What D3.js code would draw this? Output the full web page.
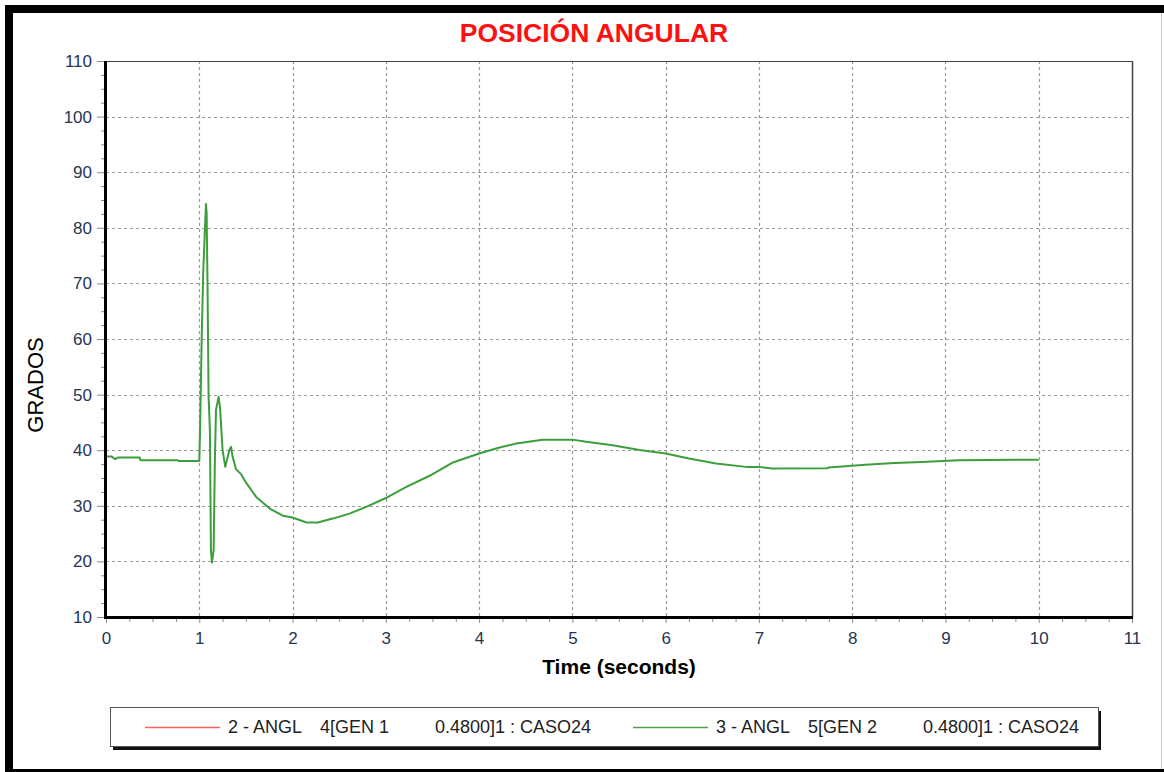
<!DOCTYPE html>
<html>
<head>
<meta charset="utf-8">
<script src="https://cdn.jsdelivr.net/npm/d3@7"></script>
<style>
  html, body { margin: 0; padding: 0; background: #fff; }
  svg { display: block; font-family: "Liberation Sans", Arial, sans-serif; }
</style>
</head>
<body>
<svg id="chart" width="1164" height="772"></svg>
<script>
// ---- Data ----
const chartTitle = "POSICIÓN ANGULAR";
const xAxisTitle = "Time (seconds)";
const yAxisTitle = "GRADOS";
const xTicks = [0, 1, 2, 3, 4, 5, 6, 7, 8, 9, 10, 11];
const yTicks = [10, 20, 30, 40, 50, 60, 70, 80, 90, 100, 110];
const timeS = [0, 0.06, 0.1, 0.13, 0.36, 0.37, 0.77, 0.78, 1.0, 1.007, 1.025, 1.043, 1.072, 1.079,
  1.089, 1.1, 1.114, 1.125, 1.136, 1.154, 1.168, 1.179, 1.207, 1.222, 1.25, 1.279, 1.322, 1.34,
  1.358, 1.393, 1.447, 1.5, 1.61, 1.756, 1.9, 2.0, 2.15, 2.27, 2.43, 2.61, 2.79, 3.0, 3.22, 3.47,
  3.72, 4.0, 4.22, 4.4, 4.68, 5.0, 5.15, 5.43, 5.72, 6.0, 6.25, 6.54, 6.86, 7.0, 7.14, 7.73, 7.75,
  8.14, 8.45, 8.75, 9.14, 10.0];
const angleGen2 = [38.85, 38.85, 38.4, 38.7, 38.7, 38.2, 38.2, 38.05, 38.05, 42.4, 59.2, 72.4, 84.3, 82.6,
  68.8, 49.6, 43.6, 22.0, 19.8, 22.0, 38.8, 47.2, 49.6, 47.8, 40.0, 37.0, 40.0, 40.6,
  38.8, 36.6, 35.7, 34.2, 31.6, 29.5, 28.2, 27.9, 27.0, 27.0, 27.7, 28.6, 29.8, 31.4, 33.4, 35.4,
  37.8, 39.4, 40.5, 41.2, 41.9, 41.9, 41.5, 40.9, 40.05, 39.4, 38.5, 37.6, 37.0, 37.0, 36.7, 36.75, 36.9,
  37.4, 37.7, 37.9, 38.2, 38.3];
const legendItems = [
  { color: "#ff5f5f", parts: ["2 - ANGL", "4[GEN 1", "0.4800]1 : CASO24"] },
  { color: "#4ea24e", parts: ["3 - ANGL", "5[GEN 2", "0.4800]1 : CASO24"] }
];

// ---- Drawing ----
const svg = d3.select("#chart");
const W = 1164, H = 772;
const pLeft = 106, pRight = 1132, pTop = 61, pBottom = 617;
const x = d3.scaleLinear().domain([0, 11]).range([pLeft, pRight]);
const y = d3.scaleLinear().domain([10, 110]).range([pBottom, pTop]);

svg.append("rect").attr("width", W).attr("height", H).attr("fill", "#fff");

// outer frame
svg.append("rect").attr("x", 5).attr("y", 5).attr("width", W - 5).attr("height", 8).attr("fill", "#000");
svg.append("rect").attr("x", 5).attr("y", 5).attr("width", 8).attr("height", H - 5).attr("fill", "#000");
svg.append("rect").attr("x", 5).attr("y", H - 3).attr("width", W - 5).attr("height", 3).attr("fill", "#000");
svg.append("line").attr("x1", W - 2.5).attr("x2", W - 2.5).attr("y1", 13).attr("y2", H - 3)
  .attr("stroke", "#c8c8c8").attr("stroke-width", 1);

// title
svg.append("text").attr("x", 594).attr("y", 42).attr("text-anchor", "middle")
  .attr("fill", "#ff1010").attr("font-weight", "bold").attr("font-size", 26.5)
  .text(chartTitle);

// grid
const grid = svg.append("g").attr("stroke", "#9a9a9a").attr("stroke-width", 1.2)
  .attr("stroke-dasharray", "3,3");
grid.selectAll("line.gx").data(xTicks.filter(d => d > 0 && d < 11)).join("line")
  .attr("x1", d => Math.round(x(d)) + 0.5).attr("x2", d => Math.round(x(d)) + 0.5)
  .attr("y1", pTop).attr("y2", pBottom);
grid.selectAll("line.gy").data(yTicks.filter(d => d > 10 && d < 110)).join("line")
  .attr("x1", pLeft).attr("x2", pRight)
  .attr("y1", d => Math.round(y(d)) + 0.5).attr("y2", d => Math.round(y(d)) + 0.5);

// minor ticks
const yMinor = d3.range(10, 110.01, 2.5).filter(v => v % 10 !== 0);
const xMinor = d3.range(0, 11.01, 0.25).filter(v => Math.abs(v - Math.round(v)) > 1e-6);

const labelColor = "#263552";
svg.append("g").attr("transform", `translate(${pLeft - 1},0)`)
  .call(d3.axisLeft(y).tickValues(yTicks).tickSize(8).tickPadding(5).tickFormat(d3.format("d")));
svg.append("g").attr("transform", `translate(${pLeft - 1},0)`)
  .call(d3.axisLeft(y).tickValues(yMinor).tickSize(4).tickFormat(""));
svg.append("g").attr("transform", `translate(0,${pBottom + 1})`)
  .call(d3.axisBottom(x).tickValues(xTicks).tickSize(5).tickPadding(9).tickFormat(d3.format("d")));
svg.append("g").attr("transform", `translate(0,${pBottom + 1})`)
  .call(d3.axisBottom(x).tickValues(xMinor).tickSize(4).tickFormat(""));
svg.selectAll(".domain").remove();
svg.selectAll(".tick line").attr("stroke", "#8a8a8a").attr("stroke-width", 1);
svg.selectAll(".tick text").attr("fill", labelColor).attr("font-size", 17)
  .attr("font-family", "'Liberation Sans', Arial, sans-serif");

// data line
const line = d3.line().x((d, i) => x(timeS[i])).y(d => y(d));
svg.append("path").datum(angleGen2).attr("d", line)
  .attr("fill", "none").attr("stroke", "#3c9e3c").attr("stroke-width", 2)
  .attr("stroke-linejoin", "round");

// plot border
svg.append("line").attr("x1", pLeft).attr("x2", pRight).attr("y1", pTop + 0.5).attr("y2", pTop + 0.5)
  .attr("stroke", "#444").attr("stroke-width", 1.2);
svg.append("line").attr("x1", pRight + 0.5).attr("x2", pRight + 0.5).attr("y1", pTop).attr("y2", pBottom)
  .attr("stroke", "#444").attr("stroke-width", 1.5);
svg.append("line").attr("x1", pLeft - 0.5).attr("x2", pLeft - 0.5).attr("y1", pTop).attr("y2", pBottom + 2)
  .attr("stroke", "#000").attr("stroke-width", 3);
svg.append("line").attr("x1", pLeft - 2).attr("x2", pRight + 1).attr("y1", pBottom + 0.5).attr("y2", pBottom + 0.5)
  .attr("stroke", "#000").attr("stroke-width", 3);

// axis titles
svg.append("text").attr("x", 619).attr("y", 674).attr("text-anchor", "middle")
  .attr("font-weight", "bold").attr("font-size", 21).attr("fill", "#000").text(xAxisTitle);
svg.append("text").attr("transform", "translate(43,385) rotate(-90)").attr("text-anchor", "middle")
  .attr("font-size", 22).attr("fill", "#000").text(yAxisTitle);

// legend
const lg = svg.append("g");
lg.append("rect").attr("x", 113).attr("y", 711).attr("width", 988).attr("height", 39).attr("fill", "#111");
lg.append("rect").attr("x", 110.5).attr("y", 707.5).attr("width", 988).attr("height", 39)
  .attr("fill", "#fff").attr("stroke", "#555").attr("stroke-width", 1);
const itemX = [145, 633];
const partOffsets = [83, 175, 290];
legendItems.forEach((it, i) => {
  const g = lg.append("g").attr("transform", `translate(${itemX[i]},0)`);
  g.append("line").attr("x1", 0).attr("x2", 75).attr("y1", 727.5).attr("y2", 727.5)
    .attr("stroke", it.color).attr("stroke-width", 1.5);
  it.parts.forEach((p, j) => {
    g.append("text").attr("x", partOffsets[j]).attr("y", 733).attr("font-size", 18)
      .attr("fill", "#222").text(p);
  });
});
</script>
</body>
</html>
